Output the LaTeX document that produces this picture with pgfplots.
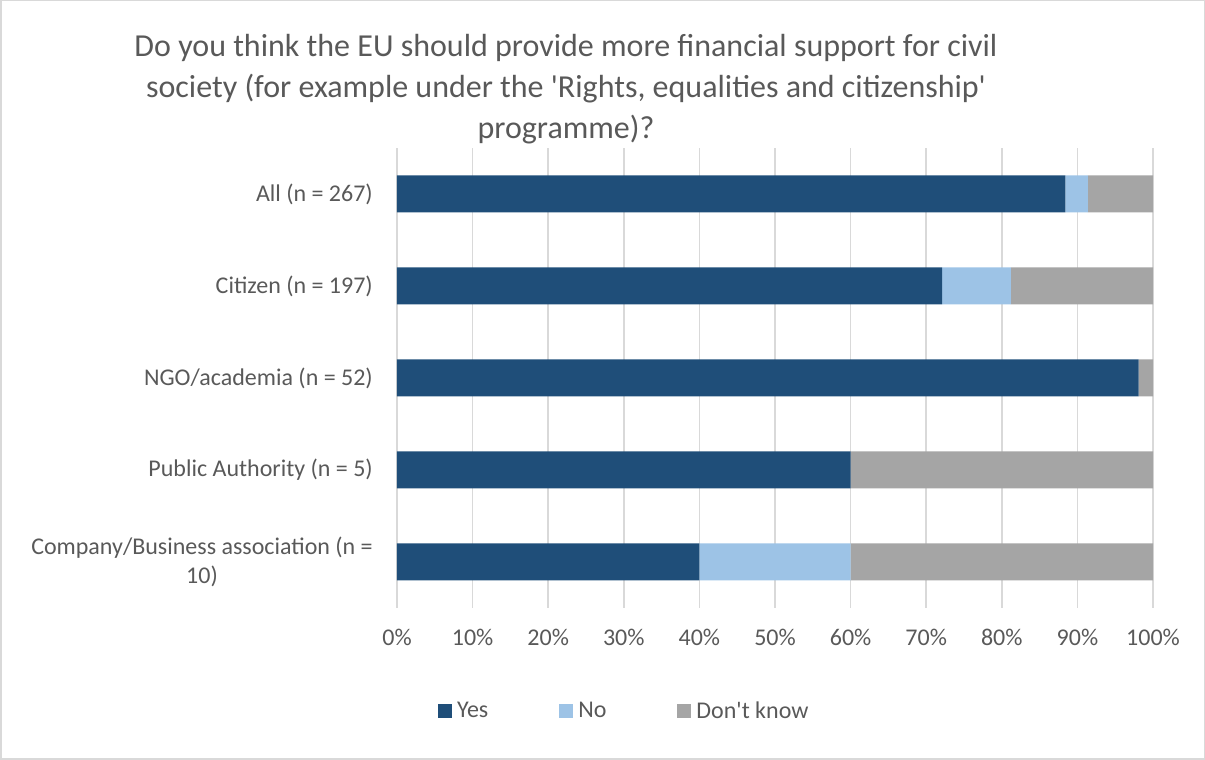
\documentclass[border=0pt]{standalone}
\usepackage{fontspec}
\setmainfont{Carlito}[Ligatures=TeXOff]
\usepackage{pgfplots}
\pgfplotsset{compat=1.18}
\definecolor{yesc}{HTML}{1F4E79}
\definecolor{noc}{HTML}{9DC3E6}
\definecolor{dkc}{HTML}{A5A5A5}
\definecolor{txt}{HTML}{595959}
\definecolor{gridc}{HTML}{D9D9D9}
\begin{document}
\begin{tikzpicture}
\path[use as bounding box] (0pt,0pt) rectangle (1205pt,760pt);
\draw[color=gridc, line width=1.5pt] (0.75pt,0.75pt) rectangle (1204.25pt,759.25pt);
\node[align=center, text=txt, font=\fontsize{32}{41}\selectfont] at (566pt,671pt)
 {Do you think the EU should provide more financial support for civil\\society (for example under the 'Rights, equalities and citizenship'\\programme)?};
\begin{axis}[at={(397pt,152pt)}, anchor=south west, scale only axis,
  width=756pt, height=460pt,
  xbar stacked, bar width=37pt,
  xmin=0, xmax=100, ymin=-0.5, ymax=4.5,
  ytick={0,1,2,3,4},
  yticklabels={{Company/Business association (n =\\10)},{Public Authority (n = 5)},{NGO/academia (n = 52)},{Citizen (n = 197)},{All (n = 267)}},
  xtick={0,10,...,100},
  xticklabels={0\%,10\%,20\%,30\%,40\%,50\%,60\%,70\%,80\%,90\%,100\%},
  xmajorgrids, grid style={color=gridc, line width=1.5pt},
  axis line style={draw=none}, major tick length=0pt, tick style={draw=none},
  ticklabel style={text=txt, font=\fontsize{24}{29}\selectfont, inner sep=0pt},
  yticklabel style={align=center, xshift=-24pt},
  xticklabel style={yshift=-21pt},
  legend columns=3,
  legend style={at={(0.054,-0.224)}, anchor=west, draw=none, fill=none, inner sep=0pt,
    font=\fontsize{24}{29}\selectfont, text=txt,
    nodes={inner sep=0pt},
    /tikz/every even column/.append style={column sep=71pt},
    /tikz/every odd column/.append style={column sep=5pt}},
  legend image code/.code={\fill[#1] (0pt,-7pt) rectangle (14pt,7pt);},
]
\addplot[fill=yesc, draw=none] coordinates {(40,0) (60,1) (98.1,2) (72.1,3) (88.4,4)};
\addplot[fill=noc, draw=none] coordinates {(20,0) (0,1) (0,2) (9.1,3) (3.0,4)};
\addplot[fill=dkc, draw=none] coordinates {(40,0) (40,1) (1.9,2) (18.8,3) (8.6,4)};
\legend{Yes,No,Don't know}
\end{axis}
\end{tikzpicture}
\end{document}
